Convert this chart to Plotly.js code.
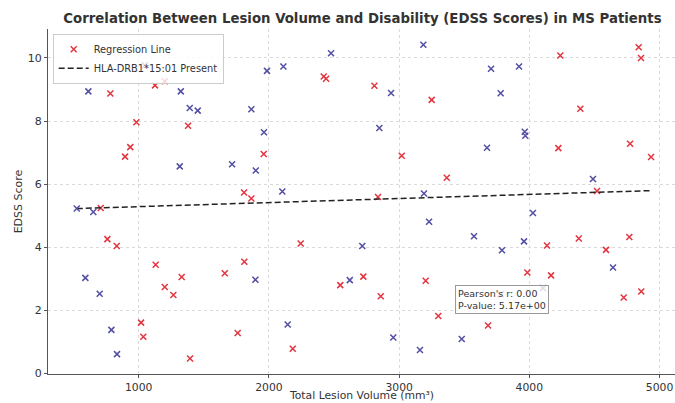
<!DOCTYPE html>
<html>
<head>
<meta charset="utf-8">
<script src="https://cdn.plot.ly/plotly-3.0.1.min.js"></script>
<style>html,body{margin:0;padding:0;background:#fff;}#chart{width:675px;height:403px;}</style>
</head>
<body>
<div id="chart"></div>
<script>
// Points drawn in red (legend: "Regression Line")
const redX = [708, 782, 895, 935, 982, 1125, 1200, 1379, 1809, 1865, 1960, 2421, 2439, 2810, 3250, 3020, 3366, 2838,
  4238, 4840, 4858, 4392, 4223, 4774, 4935, 4520, 759, 831, 1018, 1035, 1130, 1200, 1266, 1330, 1394, 1661, 1811,
  1760, 2183, 2244, 2548, 2725, 2859, 3204, 3301, 3780, 3683, 3985, 4136, 4167, 4380, 4589, 4768, 4725, 4860];
const redY = [5.24, 8.87, 6.87, 7.17, 7.96, 9.13, 9.26, 7.85, 5.73, 5.54, 6.95, 9.41, 9.34, 9.12, 8.67, 6.90, 6.20, 5.59,
  10.08, 10.34, 10.00, 8.39, 7.14, 7.28, 6.86, 5.78, 4.25, 4.03, 1.60, 1.15, 3.44, 2.73, 2.48, 3.05, 0.46, 3.17, 3.53,
  1.27, 0.77, 4.11, 2.79, 3.06, 2.44, 2.93, 1.81, 2.50, 1.51, 3.19, 4.05, 3.10, 4.27, 3.91, 4.32, 2.40, 2.59];
// Points drawn in blue
const blueX = [524, 613, 651, 1046, 1323, 1392, 1453, 1315, 1717, 1865, 1899, 1962, 1985, 2111, 2103, 2477, 3186, 2938,
  2848, 3706, 3921, 3780, 3675, 3965, 3969, 3191, 4489, 4028, 590, 700, 790, 833, 1896, 2144, 2621, 2717, 3230, 3575,
  3959, 3790, 4643, 4105, 2955, 3160, 3481];
const blueY = [5.22, 8.94, 5.11, 9.77, 8.94, 8.41, 8.33, 6.56, 6.63, 8.37, 6.43, 7.64, 9.59, 9.73, 5.76, 10.15, 10.42, 8.89,
  7.78, 9.66, 9.73, 8.88, 7.15, 7.66, 7.53, 5.70, 6.16, 5.08, 3.02, 2.52, 1.37, 0.60, 2.96, 1.54, 2.95, 4.03, 4.80, 4.34,
  4.18, 3.90, 3.35, 2.70, 1.13, 0.73, 1.08];
// Dashed fitted line endpoints
const lineX = [524, 4935];
const lineY = [5.22, 5.79];
const xTicks = [1000, 2000, 3000, 4000, 5000];
const yTicks = [0, 2, 4, 6, 8, 10];
const legendRed = "Regression Line";
const legendLine = "HLA-DRB1*15:01 Present";
const statLines = ["Pearson's r: 0.00", "P-value: 5.17e+00"];
const xTitle = 'Total Lesion Volume (mm³)';

const FONT = "DejaVu Sans, sans-serif";
const traces = [
  {x: redX, y: redY, type: 'scatter', mode: 'markers', name: legendRed,
   marker: {symbol: 'x-thin-open', size: 6, color: '#e3343f', line: {color: '#e3343f', width: 1.5}}},
  {x: lineX, y: lineY, type: 'scatter', mode: 'lines', name: legendLine,
   line: {color: '#222', width: 1.5, dash: '6px,3px'}},
  {x: blueX, y: blueY, type: 'scatter', mode: 'markers', name: 'blue', showlegend: false,
   marker: {symbol: 'x-thin-open', size: 6, color: '#524ea2', line: {color: '#524ea2', width: 1.5}}}
];
const axisCommon = {
  showline: true, linecolor: '#555', linewidth: 1, mirror: false,
  ticks: 'outside', ticklen: 3, tickwidth: 1, tickcolor: '#555',
  showgrid: true, gridcolor: '#dadada', gridwidth: 1, griddash: 'dot',
  zeroline: false, automargin: false,
  tickfont: {family: FONT, size: 11, color: '#333'}
};
const layout = {
  width: 675, height: 403,
  margin: {l: 48, r: 0, t: 29, b: 29},
  paper_bgcolor: '#fff', plot_bgcolor: '#fff',
  font: {family: FONT, color: '#333'},
  title: {text: '<b>Correlation Between Lesion Volume and Disability (EDSS Scores) in MS Patients</b>',
    font: {family: FONT, size: 13.3, color: '#333'}, x: 0.537, xanchor: 'center', y: 1 - 18.5/403, yanchor: 'middle'},
  xaxis: Object.assign({}, axisCommon, {range: [303, 5119], tickvals: xTicks, ticktext: xTicks.map(String),
    tickfont: {family: FONT, size: 10.8, color: '#333'}}),
  yaxis: Object.assign({}, axisCommon, {range: [-0.03, 10.92], tickvals: yTicks, ticktext: yTicks.map(String),
    title: {text: 'EDSS Score', font: {family: FONT, size: 11, color: '#333'}, standoff: 2}}),
  showlegend: true,
  legend: {x: 0.0075, y: 0.986, xanchor: 'left', yanchor: 'top', bgcolor: 'rgba(255,255,255,0.8)',
    bordercolor: '#ccc', borderwidth: 1, font: {family: FONT, size: 9.8, color: '#333'},
    tracegroupgap: 0, itemwidth: 30},
  annotations: [
    {xref: 'paper', yref: 'paper', x: 0.649, y: 0.259, xanchor: 'left', yanchor: 'top',
    text: statLines.join('<br>'), align: 'left', showarrow: false,
    font: {family: FONT, size: 9.5, color: '#333'}, bgcolor: 'rgba(255,255,255,0.8)',
    bordercolor: '#999', borderwidth: 1, borderpad: 2},
    {xref: 'paper', yref: 'paper', x: 0.5, y: -0.0632, xanchor: 'center', yanchor: 'middle',
    text: xTitle, showarrow: false, borderpad: 0,
    font: {family: FONT, size: 10.8, color: '#333'}}
  ]
};
Plotly.newPlot('chart', traces, layout, {displayModeBar: false, staticPlot: true});
</script>
</body>
</html>
